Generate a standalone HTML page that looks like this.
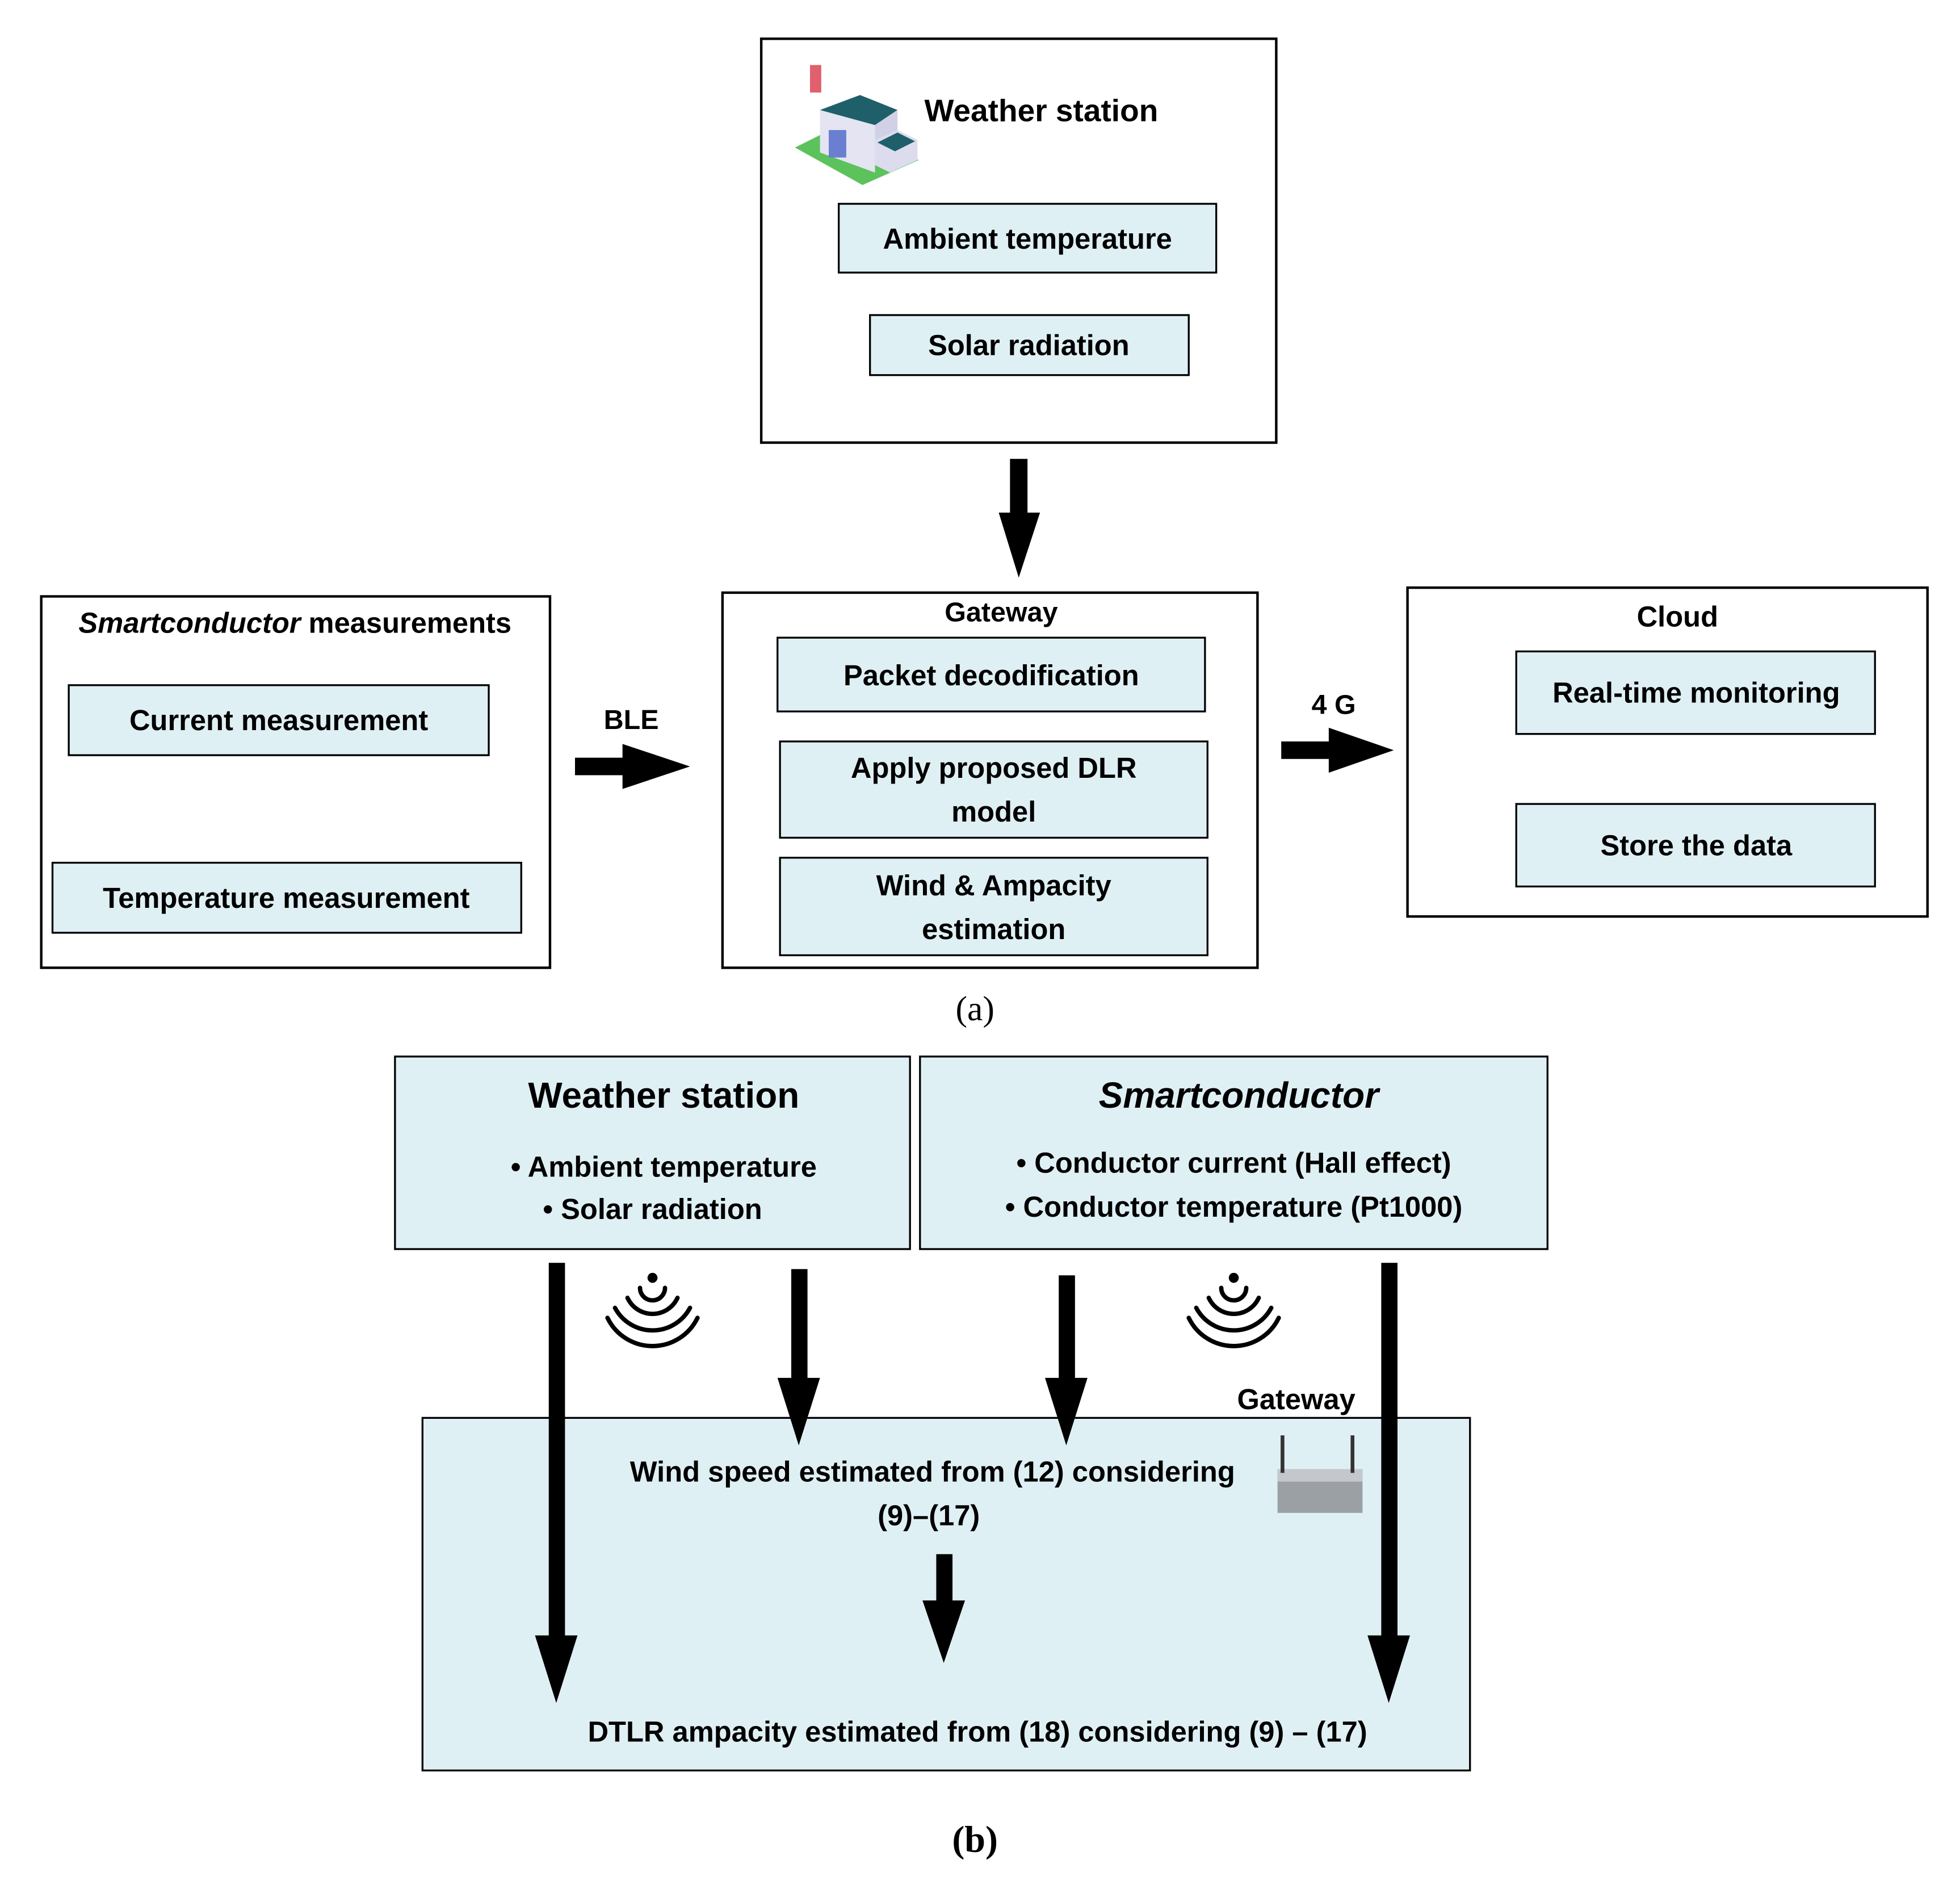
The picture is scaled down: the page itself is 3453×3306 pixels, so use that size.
<!DOCTYPE html>
<html><head><meta charset="utf-8"><style>html,body{margin:0;padding:0;background:#fff}svg{display:block}</style></head>
<body>
<svg width="3453" height="3306" viewBox="0 0 1568 1501.2" preserveAspectRatio="none" xmlns="http://www.w3.org/2000/svg" font-family="'Liberation Sans', sans-serif" font-weight="bold" font-size="23">
<rect width="1568" height="1502" fill="#fff"/>
<g fill="none" stroke="#000" stroke-width="2">
<rect x="609" y="31" width="412" height="323"/>
<rect x="33" y="477" width="407" height="297"/>
<rect x="578" y="474" width="428" height="300"/>
<rect x="1126" y="470" width="416" height="263"/>
</g>
<g fill="#dff0f4" stroke="#000" stroke-width="1.5">
<rect x="671" y="163" width="302" height="55"/>
<rect x="696" y="252" width="255" height="48"/>
<rect x="55" y="548" width="336" height="56"/>
<rect x="42" y="690" width="375" height="56"/>
<rect x="622" y="510" width="342" height="59"/>
<rect x="624" y="593" width="342" height="77"/>
<rect x="624" y="686" width="342" height="78"/>
<rect x="1213" y="521" width="287" height="66"/>
<rect x="1213" y="643" width="287" height="66"/>
<rect x="316" y="845" width="412" height="154"/>
<rect x="736" y="845" width="502" height="154"/>
<rect x="338" y="1134" width="838" height="282"/>
</g>
<!-- building icon -->
<g>
<rect x="648" y="52" width="9" height="22" fill="#e0606e"/>
<polygon points="636,118 672,100 735,128 690,148" fill="#5cc25c"/>
<polygon points="656,88 700,100 700,138 656,122" fill="#e4e4f2"/>
<polygon points="656,88 688,76 718,88 700,100" fill="#1f5f6a"/>
<polygon points="700,100 718,88 718,104 700,112" fill="#d0d0e6"/>
<polygon points="700,112 718,104 734,112 734,128 712,138 700,132" fill="#dcdcee"/>
<polygon points="702,114 718,106 732,113 716,121" fill="#1f5f6a"/>
<rect x="663" y="104" width="14" height="22" fill="#6a7fd0"/>
</g>
<g text-anchor="middle" fill="#000">
<text x="833" y="97" font-size="25">Weather station</text>
<text x="822" y="199">Ambient temperature</text>
<text x="823" y="284">Solar radiation</text>
<text x="236" y="506"><tspan font-style="italic">Smartconductor</tspan> measurements</text>
<text x="223" y="584">Current  measurement</text>
<text x="229" y="726">Temperature  measurement</text>
<text x="801" y="497" font-size="22">Gateway</text>
<text x="793" y="548">Packet  decodification</text>
<text x="795" y="622">Apply proposed DLR</text>
<text x="795" y="657">model</text>
<text x="795" y="716">Wind &amp; Ampacity</text>
<text x="795" y="751">estimation</text>
<text x="1342" y="501">Cloud</text>
<text x="1357" y="562">Real-time monitoring</text>
<text x="1357" y="684">Store the data</text>
<text x="505" y="583" font-size="22">BLE</text>
<text x="1067" y="571" font-size="22">4 G</text>
<text x="780" y="816" font-family="'Liberation Serif', serif" font-weight="normal" font-size="28">(a)</text>
<text x="531" y="886" font-size="29">Weather station</text>
<text x="531" y="941">• Ambient temperature</text>
<text x="522" y="975">• Solar radiation</text>
<text x="991" y="886" font-size="29" font-style="italic">Smartconductor</text>
<text x="987" y="938">• Conductor current (Hall effect)</text>
<text x="987" y="973">• Conductor temperature (Pt1000)</text>
<text x="1037" y="1127">Gateway</text>
<text x="746" y="1185">Wind speed estimated from (12) considering</text>
<text x="743" y="1220">(9)–(17)</text>
<text x="782" y="1393">DTLR ampacity estimated from (18) considering (9) – (17)</text>
<text x="780" y="1481" font-family="'Liberation Serif', serif" font-size="30">(b)</text>
</g>
<!-- arrows -->
<g fill="#000">
<rect x="808" y="367" width="14" height="45"/><polygon points="799,410 832,410 815,462"/>
<rect x="460" y="606" width="42" height="14"/><polygon points="498,595 552,613 498,631"/>
<rect x="1025" y="593" width="42" height="14"/><polygon points="1063,582 1115,600 1063,618"/>
<rect x="439" y="1010" width="13" height="302"/><polygon points="428,1308 462,1308 445,1362"/>
<rect x="633" y="1015" width="13" height="88"/><polygon points="622,1102 656,1102 639,1156"/>
<rect x="847" y="1020" width="13" height="83"/><polygon points="836,1102 870,1102 853,1156"/>
<rect x="1105" y="1010" width="13" height="302"/><polygon points="1094,1308 1128,1308 1111,1362"/>
<rect x="749" y="1243" width="13" height="40"/><polygon points="738,1280 772,1280 755,1330"/>
</g>
<!-- wifi -->
<g fill="none" stroke="#000" stroke-width="3.5" stroke-linecap="round">
<path d="M512,1030 A10,10 0 0 0 532,1030"/><path d="M502,1038 A22,22 0 0 0 542,1038"/><path d="M492,1046 A34,34 0 0 0 552,1046"/><path d="M486,1054 A40,40 0 0 0 558,1054"/>
<path d="M977,1030 A10,10 0 0 0 997,1030"/><path d="M967,1038 A22,22 0 0 0 1007,1038"/><path d="M957,1046 A34,34 0 0 0 1017,1046"/><path d="M951,1054 A40,40 0 0 0 1023,1054"/>
</g>
<circle cx="522" cy="1022" r="4" fill="#000"/><circle cx="987" cy="1022" r="4" fill="#000"/>
<!-- router -->
<g>
<rect x="1022" y="1175" width="68" height="35" fill="#9aa0a4"/>
<rect x="1022" y="1175" width="68" height="10" fill="#c4c8cc"/>
<line x1="1026" y1="1148" x2="1026" y2="1178" stroke="#333" stroke-width="3"/>
<line x1="1082" y1="1148" x2="1082" y2="1178" stroke="#333" stroke-width="3"/>
</g>
</svg>
</body></html>
